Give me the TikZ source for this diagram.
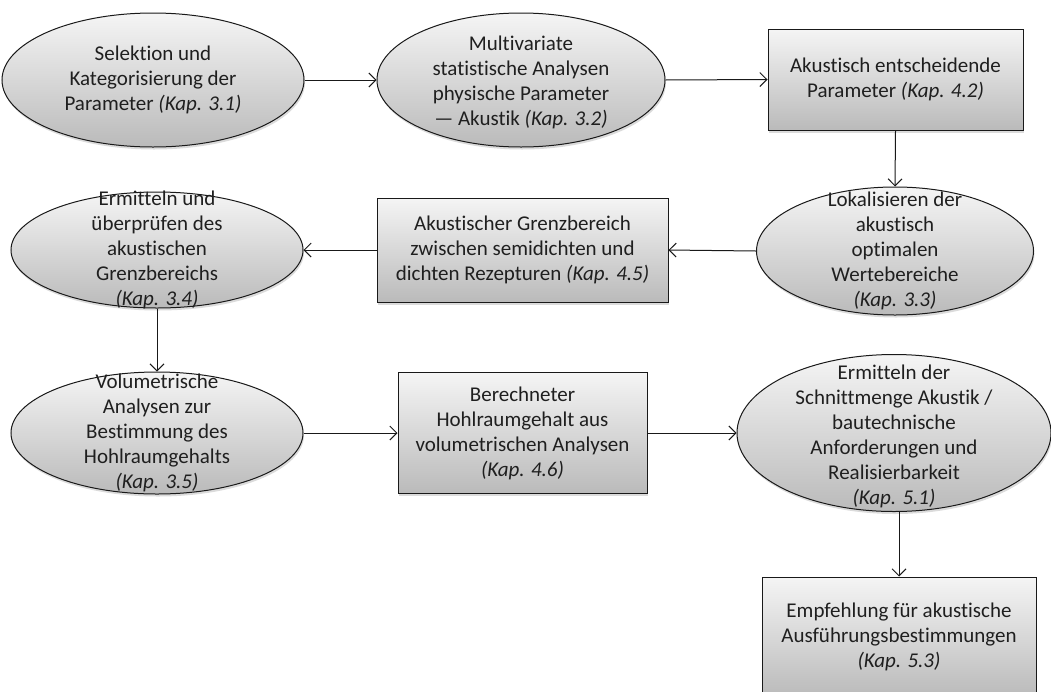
\documentclass[tikz,border=0pt]{standalone}
\usepackage{fontspec}
\setmainfont{Carlito}[Ligatures=NoCommon]
\usetikzlibrary{shapes.geometric,arrows.meta,shadows}
\begin{document}
\begin{tikzpicture}[x=1pt,y=-1pt,
 base/.style={draw=black!90, line width=1pt, top color=black!4, bottom color=black!27, inner sep=0pt,
   drop shadow={shadow xshift=1pt, shadow yshift=-2.5pt, opacity=0.14, fill=black}},
 ell/.style={base, ellipse},
 box/.style={base, rectangle, align=center, font=\fontsize{21}{25}\selectfont, text=black!88},
 txt/.style={align=center, font=\fontsize{21}{25}\selectfont, text=black!88, inner sep=0pt},
 arr/.style={-{Straight Barb[length=7pt,width=14pt]}, line width=1pt, draw=black!90}]
\useasboundingbox (0,0) rectangle (1051,691);
\clip (0,0) rectangle (1051,691);

% row 1
\node[ell, minimum width=302pt, minimum height=134pt] (e1) at (153,80) {};
\node[txt] (e1t) at (e1) {Selektion und\\Kategorisierung der\\Parameter \textit{(Kap. 3.1)}};
\node[ell, minimum width=288pt, minimum height=134pt] (e2) at (521,80) {};
\node[txt] (e2t) at ([yshift=-2pt]e2.center) {Multivariate\\statistische Analysen\\physische Parameter\\— Akustik \textit{(Kap. 3.2)}};
\node[box, minimum width=255pt, minimum height=101pt] (r3) at (895.5,79.5) {Akustisch entscheidende\\Parameter \textit{(Kap. 4.2)}};

% row 2
\node[ell, minimum width=277pt, minimum height=128pt] (e4) at (895,251) {};
\node[txt] (e4t) at (e4) {Lokalisieren der\\akustisch\\optimalen\\Wertebereiche\\\textit{(Kap. 3.3)}};
\node[box, minimum width=291pt, minimum height=104pt] (r5) at (522.5,250) {Akustischer Grenzbereich\\zwischen semidichten und\\dichten Rezepturen \textit{(Kap. 4.5)}};
\node[ell, minimum width=292pt, minimum height=116pt] (e6) at (157,250) {};
\node[txt] (e6t) at (e6) {Ermitteln und\\überprüfen des\\akustischen\\Grenzbereichs\\\textit{(Kap. 3.4)}};

% row 3
\node[ell, minimum width=292pt, minimum height=122pt] (e7) at (157,433) {};
\node[txt] (e7t) at (e7) {Volumetrische\\Analysen zur\\Bestimmung des\\Hohlraumgehalts\\\textit{(Kap. 3.5)}};
\node[box, minimum width=249pt, minimum height=121pt] (r8) at (522.5,433) {Berechneter\\Hohlraumgehalt aus\\volumetrischen Analysen\\\textit{(Kap. 4.6)}};
\node[ell, minimum width=314pt, minimum height=157pt] (e9) at (894,433) {};
\node[txt] (e9t) at ([yshift=-3pt]e9.center) {Ermitteln der\\Schnittmenge Akustik /\\bautechnische\\Anforderungen und\\Realisierbarkeit\\\textit{(Kap. 5.1)}};
\node[box, minimum width=274pt, minimum height=120pt] (r10) at (899,637) {Empfehlung für akustische\\Ausführungsbestimmungen\\\textit{(Kap. 5.3)}};

% connectors
\draw[arr] (e1.east) -- (e2.west);
\draw[arr] (e2.east) -- (r3.west);
\draw[arr] (r3.south) -- (e4.north);
\draw[arr] (e4.west) -- (r5.east);
\draw[arr] (r5.west) -- (e6.east);
\draw[arr] (e6.south) -- (e7.north);
\draw[arr] (e7.east) -- (r8.west);
\draw[arr] (r8.east) -- (e9.west);
\draw[arr] (e9.south -| r10.north) -- (r10.north);
\end{tikzpicture}
\end{document}
